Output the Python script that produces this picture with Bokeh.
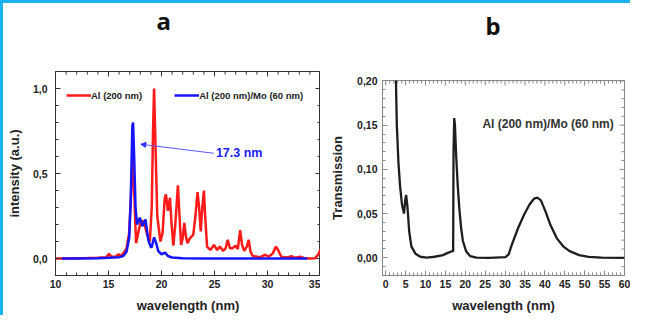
import numpy as np
from bokeh.plotting import figure
from bokeh.models import (Range1d, SingleIntervalTicker, CustomJSTickFormatter,
                          Label, Arrow, NormalHead, Legend, LegendItem, Div)
from bokeh.layouts import row, column
from bokeh.embed import file_html
from bokeh.resources import INLINE

FONT = "Liberation Sans"
BLUE_FRAME = "#1cb2f0"

# ---------------- panel a : emission spectra ----------------
al_x = [10.0, 11.0, 12.0, 13.0, 14.0, 14.8, 15.05, 15.3, 15.7, 15.95, 16.15, 16.4, 16.7, 16.95,
        17.15, 17.3, 17.45, 17.6, 17.8, 18.05, 18.25, 18.4, 18.65, 18.9, 19.08, 19.2, 19.3, 19.42,
        19.6, 19.9, 20.1, 20.3, 20.42, 20.6, 20.8, 20.95, 21.12, 21.3, 21.55, 21.7, 21.85, 22.0,
        22.15, 22.3, 22.45, 22.7, 23.0, 23.2, 23.4, 23.55, 23.7, 23.85, 24.0, 24.12, 24.3, 24.6,
        24.95, 25.25, 25.5, 25.8, 26.05, 26.25, 26.45, 26.7, 27.0, 27.2, 27.42, 27.6, 27.8, 28.05,
        28.22, 28.4, 28.6, 28.9, 29.3, 29.8, 30.1, 30.5, 30.8, 31.0, 31.3, 31.8, 32.3, 32.6, 33.1,
        33.4, 34.0, 34.5, 34.8, 35.0]
al_y = [0.0, 0.0, 0.002, 0.003, 0.005, 0.008, 0.027, 0.01, 0.012, 0.025, 0.015, 0.03, 0.06, 0.15,
        0.4, 0.6, 0.35, 0.09, 0.15, 0.22, 0.22, 0.2, 0.14, 0.1, 0.3, 0.75, 1.0, 0.7,
        0.25, 0.1, 0.15, 0.35, 0.377, 0.28, 0.357, 0.2, 0.075, 0.2, 0.43, 0.25, 0.08, 0.12,
        0.21, 0.13, 0.09, 0.12, 0.14, 0.25, 0.39, 0.3, 0.16, 0.3, 0.40, 0.25, 0.07, 0.05,
        0.08, 0.05, 0.07, 0.045, 0.06, 0.11, 0.06, 0.06, 0.075, 0.055, 0.167, 0.08, 0.045, 0.07,
        0.11, 0.04, 0.015, 0.012, 0.008, 0.022, 0.01, 0.03, 0.07, 0.05, 0.01, 0.006, 0.013, 0.004, 0.011,
        0.003, 0.0, 0.002, 0.025, 0.055]

almo_x = [10.6, 12.0, 14.0, 15.0, 16.0, 16.4, 16.7, 16.95, 17.1, 17.25, 17.32, 17.42, 17.55, 17.69,
          17.95, 18.2, 18.49, 18.75, 18.97, 19.07, 19.3, 19.5, 19.7, 20.0, 20.34, 20.6, 21.0, 22.0,
          24.0, 33.75]
almo_y = [0.0, 0.0, 0.002, 0.004, 0.008, 0.015, 0.04, 0.12, 0.35, 0.78, 0.80, 0.6, 0.3, 0.2,
          0.24, 0.19, 0.23, 0.11, 0.07, 0.065, 0.124, 0.09, 0.043, 0.025, 0.035, 0.015, 0.006, 0.002,
          0.0, 0.0]

# ---------------- panel b : transmission ----------------
tr_x = [2.35, 2.8, 3.2, 3.6, 4.1, 4.6, 4.9, 5.15, 5.5, 5.9, 6.45, 7.5, 8.7, 10.3, 12.3, 14.4, 15.6,
        16.5, 16.95, 17.05, 17.22, 17.4, 17.7, 18.1, 18.5, 18.95, 19.4, 20.2, 21.2, 22.8, 26.0,
        30.1, 30.9, 31.7, 33.3, 34.8, 36.1, 37.3, 38.1, 39.0, 40.2, 41.4, 43.0, 44.6, 46.2, 48.6,
        51.0, 54.3, 60.0]
tr_y = [0.25, 0.15, 0.108, 0.082, 0.06, 0.05, 0.065, 0.071, 0.056, 0.03, 0.013, 0.0045, 0.0012,
        0.0003, 0.0012, 0.003, 0.0056, 0.0072, 0.0075, 0.12, 0.158, 0.15, 0.116, 0.082, 0.056,
        0.034, 0.019, 0.0075, 0.002, 0.0003, 0.0, 0.0008, 0.004, 0.015, 0.034, 0.049, 0.06, 0.067,
        0.068, 0.065, 0.052, 0.037, 0.022, 0.013, 0.0075, 0.003, 0.001, 0.0003, 0.0]

a_xrange = (10, 35)
a_yrange = (-0.1, 1.1)
a_xstep, a_ystep = 5, 0.5
b_xrange = (-0.8, 60)
b_yrange = (-0.02, 0.2005)
b_xstep, b_ystep = 5, 0.05


def style_main(p, xstep, ystep, yfmt, color, ylab_standoff, ytick_standoff):
    p.xaxis[0].ticker = SingleIntervalTicker(interval=xstep, num_minor_ticks=5)
    p.yaxis[0].ticker = SingleIntervalTicker(interval=ystep, num_minor_ticks=5)
    for ax in (p.xaxis[0], p.yaxis[0]):
        ax.major_tick_in = 5
        ax.major_tick_out = 0
        ax.minor_tick_in = 3
        ax.minor_tick_out = 0
        ax.axis_line_color = color
        ax.major_tick_line_color = color
        ax.minor_tick_line_color = color
        ax.major_label_text_font = FONT
        ax.major_label_text_font_style = "bold"
        ax.major_label_text_font_size = "10.5px"
        ax.major_label_text_color = "#222222"
        ax.axis_label_text_font = FONT
        ax.axis_label_text_font_style = "bold"
        ax.axis_label_text_font_size = "13px"
        ax.axis_label_text_color = "#222222"
    p.yaxis[0].formatter = CustomJSTickFormatter(code=yfmt)
    p.xaxis[0].major_label_standoff = 4
    p.xaxis[0].axis_label_standoff = 7
    p.yaxis[0].major_label_standoff = ytick_standoff
    p.yaxis[0].axis_label_standoff = ylab_standoff
    p.xgrid.visible = False
    p.ygrid.visible = False
    p.outline_line_color = color


def style_title(p, text, offset, standoff):
    # the trailing empty line makes the title box fill the top border, so the
    # letter sits near the top of the picture as in the reference
    p.title.text = text + "\n"
    p.title.align = "left"
    p.title.vertical_align = "top"
    p.title.offset = offset
    p.title.standoff = standoff
    p.title.text_font = "Noto Sans"
    p.title.text_font_style = "bold"
    p.title.text_font_size = "24px"
    p.title.text_color = "#111111"


def mirror_ticks(p, xr, yr, xstep, ystep, color):
    # inward tick marks on the right and top edges of the frame
    xs = np.arange(np.ceil(xr[0] / (xstep / 5)) * (xstep / 5), xr[1] + 1e-9, xstep / 5)
    ys = np.arange(np.ceil(yr[0] / (ystep / 5)) * (ystep / 5), yr[1] + 1e-9, ystep / 5)
    xmaj = np.isclose(np.round(xs / xstep) * xstep, xs)
    ymaj = np.isclose(np.round(ys / ystep) * ystep, ys)
    for sel, ln in ((xmaj, 5), (~xmaj, 3)):
        p.ray(x=list(xs[sel]), y=[yr[1]] * int(sel.sum()), length=ln, length_units="screen",
              angle=-np.pi / 2, line_color=color, line_width=1)
    for sel, ln in ((ymaj, 5), (~ymaj, 3)):
        p.ray(x=[xr[1]] * int(sel.sum()), y=list(ys[sel]), length=ln, length_units="screen",
              angle=np.pi, line_color=color, line_width=1)


# ---- figure a ----
pa = figure(width=317, height=312, output_backend="svg", toolbar_location=None,
            x_range=Range1d(*a_xrange), y_range=Range1d(*a_yrange), frame_align=False,
            min_border_left=46, min_border_right=0, min_border_top=68, min_border_bottom=40,
            x_axis_label="wavelength (nm)", y_axis_label="intensity (a.u.)")
style_main(pa, a_xstep, a_ystep, "return tick.toFixed(1).replace('.', ',');", "#333333", 8, 8)
style_title(pa, "a", 101, 0)
mirror_ticks(pa, a_xrange, a_yrange, a_xstep, a_ystep, "#333333")

r_al = pa.line(al_x, al_y, line_color="#ff1a1a", line_width=2.5)
r_almo = pa.line(almo_x, almo_y, line_color="#1414ff", line_width=2.5)

leg = Legend(items=[LegendItem(label="Al (200 nm)", renderers=[r_al]),
                    LegendItem(label="Al (200 nm)/Mo (60 nm)", renderers=[r_almo])],
             orientation="horizontal", location=(11, 174), glyph_width=25, glyph_height=12,
             label_height=12, label_standoff=0, spacing=32, padding=0, margin=0,
             label_text_font=FONT, label_text_font_style="bold", label_text_font_size="9.5px",
             label_text_color="#222222", background_fill_alpha=0, border_line_color=None)
pa.add_layout(leg)

pa.add_layout(Arrow(x_start=24.94, y_start=0.619, x_end=18.05, y_end=0.672,
                    line_color="#5a5aff", line_width=1,
                    end=NormalHead(size=5, fill_color="#3030ff", line_color="#3030ff")))
pa.add_layout(Label(x=25.13, y=0.619, text="17.3 nm", text_font=FONT, text_font_style="bold",
                    text_font_size="12.5px", text_color="#1a1aff", text_baseline="middle"))

# ---- figure b ----
pb = figure(width=310, height=312, output_backend="svg", toolbar_location=None,
            x_range=Range1d(*b_xrange), y_range=Range1d(*b_yrange), frame_align=False,
            min_border_left=62, min_border_right=6, min_border_top=77, min_border_bottom=38,
            x_axis_label="wavelength (nm)", y_axis_label="Transmission")
style_main(pb, b_xstep, b_ystep, "return tick.toFixed(2).replace('.', ',');", "#888888", 9, 5)
style_title(pb, "b", 103, 8)
mirror_ticks(pb, b_xrange, b_yrange, b_xstep, b_ystep, "#888888")

pb.line(tr_x, tr_y, line_color="#1e1e1e", line_width=2.3)
pb.add_layout(Label(x=24.3, y=0.1508, text="Al (200 nm)/Mo (60 nm)", text_font=FONT,
                    text_font_style="bold", text_font_size="12px", text_color="#333333",
                    text_baseline="middle"))

top_bar = Div(width=630, height=3, margin=0, styles={"background-color": BLUE_FRAME})
left_bar = Div(width=3, height=312, margin=0, styles={"background-color": BLUE_FRAME})
layout = column(top_bar, row(left_bar, pa, pb, spacing=0), spacing=0)

open("out.html", "w").write(file_html(layout, INLINE))
